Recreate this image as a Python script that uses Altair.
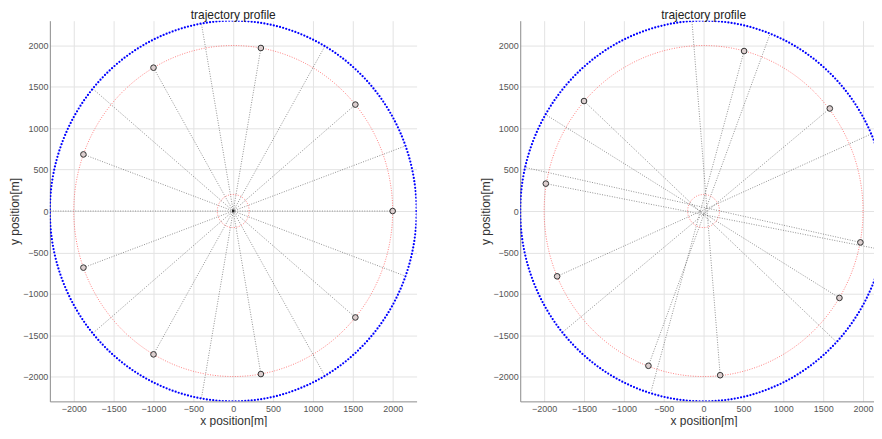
import altair as alt
import pandas as pd
import numpy as np

chart_title = "trajectory profile"
x_title = "x position[m]"
y_title = "y position[m]"
tick_values = [-2000, -1500, -1000, -500, 0, 500, 1000, 1500, 2000]

outer_radius = 2300
node_radius = 2000
inner_radius = 200

# left panel: sensor nodes and opposite rim points
left_node_x = [2000, 1532, 347, -1000, -1879, -1879, -1000, 347, 1532]
left_node_y = [0, 1286, 1970, 1732, 684, -684, -1732, -1970, -1286]
left_end_x = [-2300, -1762, -399, 1150, 2161, 2161, 1150, -399, -1762]
left_end_y = [0, -1478, -2265, -1992, -787, 787, 1992, 2265, 1478]

# right panel
right_node_x = [508, 1583, -1500, -1979, 1967, 1704, -1837, -692, 208]
right_node_y = [1933, 1239, 1329, 331, -379, -1050, -789, -1870, -1984]
right_end_x = [-659, -1762, 1654, 2250, -2250, -1991, 2112, 833, -146]
right_end_y = [-2181, -1459, -1570, -470, 529, 1171, 935, 2138, 2295]


def circle_df(r, n):
    t = np.linspace(0, 2 * np.pi, n, endpoint=True)
    return pd.DataFrame({"x": r * np.cos(t), "y": r * np.sin(t), "i": np.arange(n)})


def panel(nx, ny, ex, ey, center_dot):
    xs = alt.Scale(domain=[-2300, 2300], nice=False, zero=False)
    ys = alt.Scale(domain=[-2300, 2300], nice=False, zero=False)
    common = dict(values=tick_values, grid=True, gridColor="#e3e3e3", format="d",
                  domainColor="#8c8c8c", ticks=False, labelFontSize=9, labelColor="#555555",
                  labelFont="Liberation Sans", titleFont="Liberation Sans", titleFontSize=12,
                  titleFontWeight="normal", titleColor="#333333", labelFlush=False)
    ax = alt.Axis(title=x_title, labelPadding=3, titlePadding=2, **common)
    ay = alt.Axis(title=y_title, labelPadding=2, titlePadding=1, **common)
    base_x = alt.X("x:Q", scale=xs, axis=ax)
    base_y = alt.Y("y:Q", scale=ys, axis=ay)

    seg = pd.DataFrame({"x": nx, "y": ny, "x2": ex, "y2": ey})
    rules = alt.Chart(seg).mark_rule(color="#555555", strokeWidth=0.8, strokeDash=[1, 1.5],
                                     opacity=0.8, clip=True).encode(
        x=base_x, y=base_y, x2="x2:Q", y2="y2:Q")

    red = alt.Chart(circle_df(node_radius, 361)).mark_line(
        color="#ff4d4d", strokeWidth=1, strokeDash=[1, 1.5], opacity=0.7, clip=True).encode(
        x=base_x, y=base_y, order="i:Q")
    red_in = alt.Chart(circle_df(inner_radius, 121)).mark_line(
        color="#ff4d4d", strokeWidth=1, strokeDash=[1, 1.5], opacity=0.7, clip=True).encode(
        x=base_x, y=base_y, order="i:Q")
    blue = alt.Chart(circle_df(outer_radius, 360)).mark_circle(
        color="#0000ff", size=5, opacity=1, clip=True).encode(x=base_x, y=base_y)
    nodes = alt.Chart(pd.DataFrame({"x": nx, "y": ny})).mark_point(
        shape="circle", size=32, filled=True, fill="#dccfcf", stroke="#333333",
        strokeWidth=1, opacity=1, clip=True).encode(x=base_x, y=base_y)
    layers = [rules, red, red_in, blue, nodes]
    if center_dot:
        layers.append(alt.Chart(pd.DataFrame({"x": [0], "y": [0]})).mark_circle(
            color="#222222", size=8, opacity=1).encode(x=base_x, y=base_y))
    return alt.layer(*layers).properties(
        width=368, height=382,
        title=alt.TitleParams(chart_title, fontSize=12, fontWeight="normal",
                              font="Liberation Sans", color="#222222", offset=-1))


left = panel(left_node_x, left_node_y, left_end_x, left_end_y, True)
right = panel(right_node_x, right_node_y, right_end_x, right_end_y, False)

chart = alt.hconcat(left, right, spacing=62).configure_view(stroke=None).properties(
    padding={"left": 0, "top": 0, "right": -13, "bottom": 0})

chart.save("out.html", embed_options={"renderer": "svg", "actions": False})
